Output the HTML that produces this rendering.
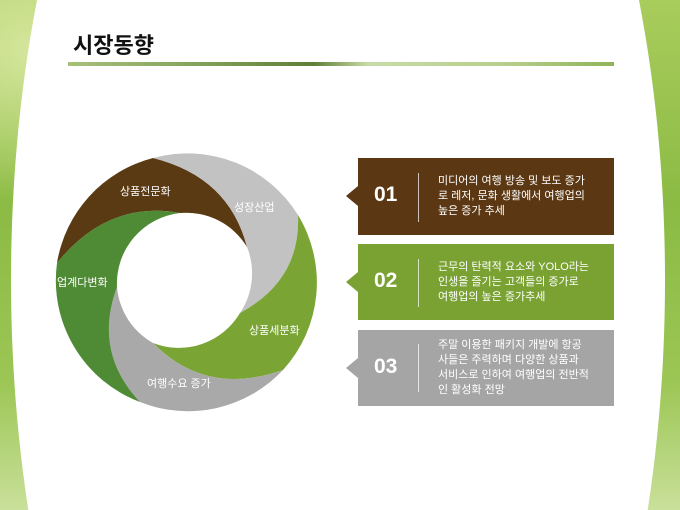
<!DOCTYPE html>
<html style="overflow:hidden;width:680px;height:510px"><head><meta charset="utf-8"><style>
html,body{margin:0;padding:0;width:680px;height:510px;overflow:hidden;}
body{position:relative;font-family:"Liberation Sans","Noto Sans CJK KR",sans-serif;}
.bg{position:absolute;left:0;top:0;width:680px;height:510px;background:linear-gradient(180deg,#a9cc5c 0%,#8bbb44 40%,#9cc655 75%,#c9e09a 100%);}
.t{position:absolute;color:#fff;white-space:nowrap;}
svg{display:block}
</style></head><body>
<div class="bg"></div>
<svg width="680" height="510" style="position:absolute;left:0;top:0">
<defs>
<linearGradient id="ln" x1="0" x2="1"><stop offset="0" stop-color="#a6c176"/><stop offset="0.2" stop-color="#8aa860"/><stop offset="0.45" stop-color="#5e7f35"/><stop offset="0.55" stop-color="#c8dba8"/><stop offset="0.8" stop-color="#b7cf8c"/><stop offset="1" stop-color="#8fb35a"/></linearGradient>
<radialGradient id="gl" cx="0.05" cy="0.1" r="0.3"><stop offset="0" stop-color="#e2eeb0" stop-opacity="0.8"/><stop offset="1" stop-color="#e2eeb0" stop-opacity="0"/></radialGradient>
</defs>
<rect width="680" height="510" fill="url(#gl)"/>
<ellipse cx="338" cy="280" rx="327" ry="716" fill="#fff"/>
<rect x="68" y="62" width="546" height="4" fill="url(#ln)"/>
<g transform="translate(186,284)">
<path d="M-129,-21 A130,130 0 0 1 -33,-126 Q43,-107 61,-37 A71,71 0 0 0 -6,-71 Q-78,-84 -129,-21Z" fill="#5a3a13"/>
<path d="M-33,-126 A130,130 0 0 1 112,-69 Q115,-4 54,29 A71,71 0 0 0 61,-37 Q43,-107 -33,-126Z" fill="#c2c2c2"/>
<path d="M112,-69 A130,130 0 0 1 97,86 Q20,113 -33,59 A71,71 0 0 0 54,29 Q115,-4 112,-69Z" fill="#7aa535"/>
<path d="M97,86 A130,130 0 0 1 -46,118 Q-93,68 -69,3 A71,71 0 0 0 -33,59 Q20,113 97,86Z" fill="#a9a9a9"/>
<path d="M-46,118 A130,130 0 0 1 -129,-21 Q-78,-84 -6,-71 A71,71 0 0 0 -69,3 Q-93,68 -46,118Z" fill="#4f8a35"/>
</g>
<path d="M358,158H614V235H358V206L346,196L358,186Z" fill="#5b3813"/>
<path d="M358,244H614V320H358V292L346,282L358,272Z" fill="#7aa232"/>
<path d="M358,330H614V406H358V378L346,368L358,358Z" fill="#a5a5a5"/>
<g stroke="#fff" stroke-opacity="0.7" stroke-width="1"><line x1="418.5" y1="173" x2="418.5" y2="222"/><line x1="418.5" y1="259" x2="418.5" y2="307"/><line x1="418.5" y1="344" x2="418.5" y2="392"/></g>
</svg>
<div style="position:absolute;left:73px;top:28px;font-size:22px;font-weight:bold;color:#111">시장동향</div>
<div class="t" style="left:120px;top:183px;font-size:11px">상품전문화</div>
<div class="t" style="left:234px;top:199px;font-size:11px">성장산업</div>
<div class="t" style="left:57px;top:274px;font-size:11px">업계다변화</div>
<div class="t" style="left:249px;top:322px;font-size:11px">상품세분화</div>
<div class="t" style="left:147px;top:375px;font-size:11px">여행수요 증가</div>
<div class="t" style="left:374px;top:183px;font-size:21px;font-weight:bold">01</div>
<div class="t" style="left:374px;top:269px;font-size:21px;font-weight:bold">02</div>
<div class="t" style="left:374px;top:355px;font-size:21px;font-weight:bold">03</div>
<div class="t" style="left:438px;top:174px;font-size:11px;line-height:15px">미디어의 여행 방송 및 보도 증가<br>로 레저, 문화 생활에서 여행업의<br>높은 증가 추세</div>
<div class="t" style="left:438px;top:260px;font-size:11px;line-height:15px">근무의 탄력적 요소와 YOLO라는<br>인생을 즐기는 고객들의 증가로<br>여행업의 높은 증가추세</div>
<div class="t" style="left:438px;top:338px;font-size:11px;line-height:15px">주말 이용한 패키지 개발에 항공<br>사들은 주력하며 다양한 상품과<br>서비스로 인하여 여행업의 전반적<br>인 활성화 전망</div>
</body></html>
